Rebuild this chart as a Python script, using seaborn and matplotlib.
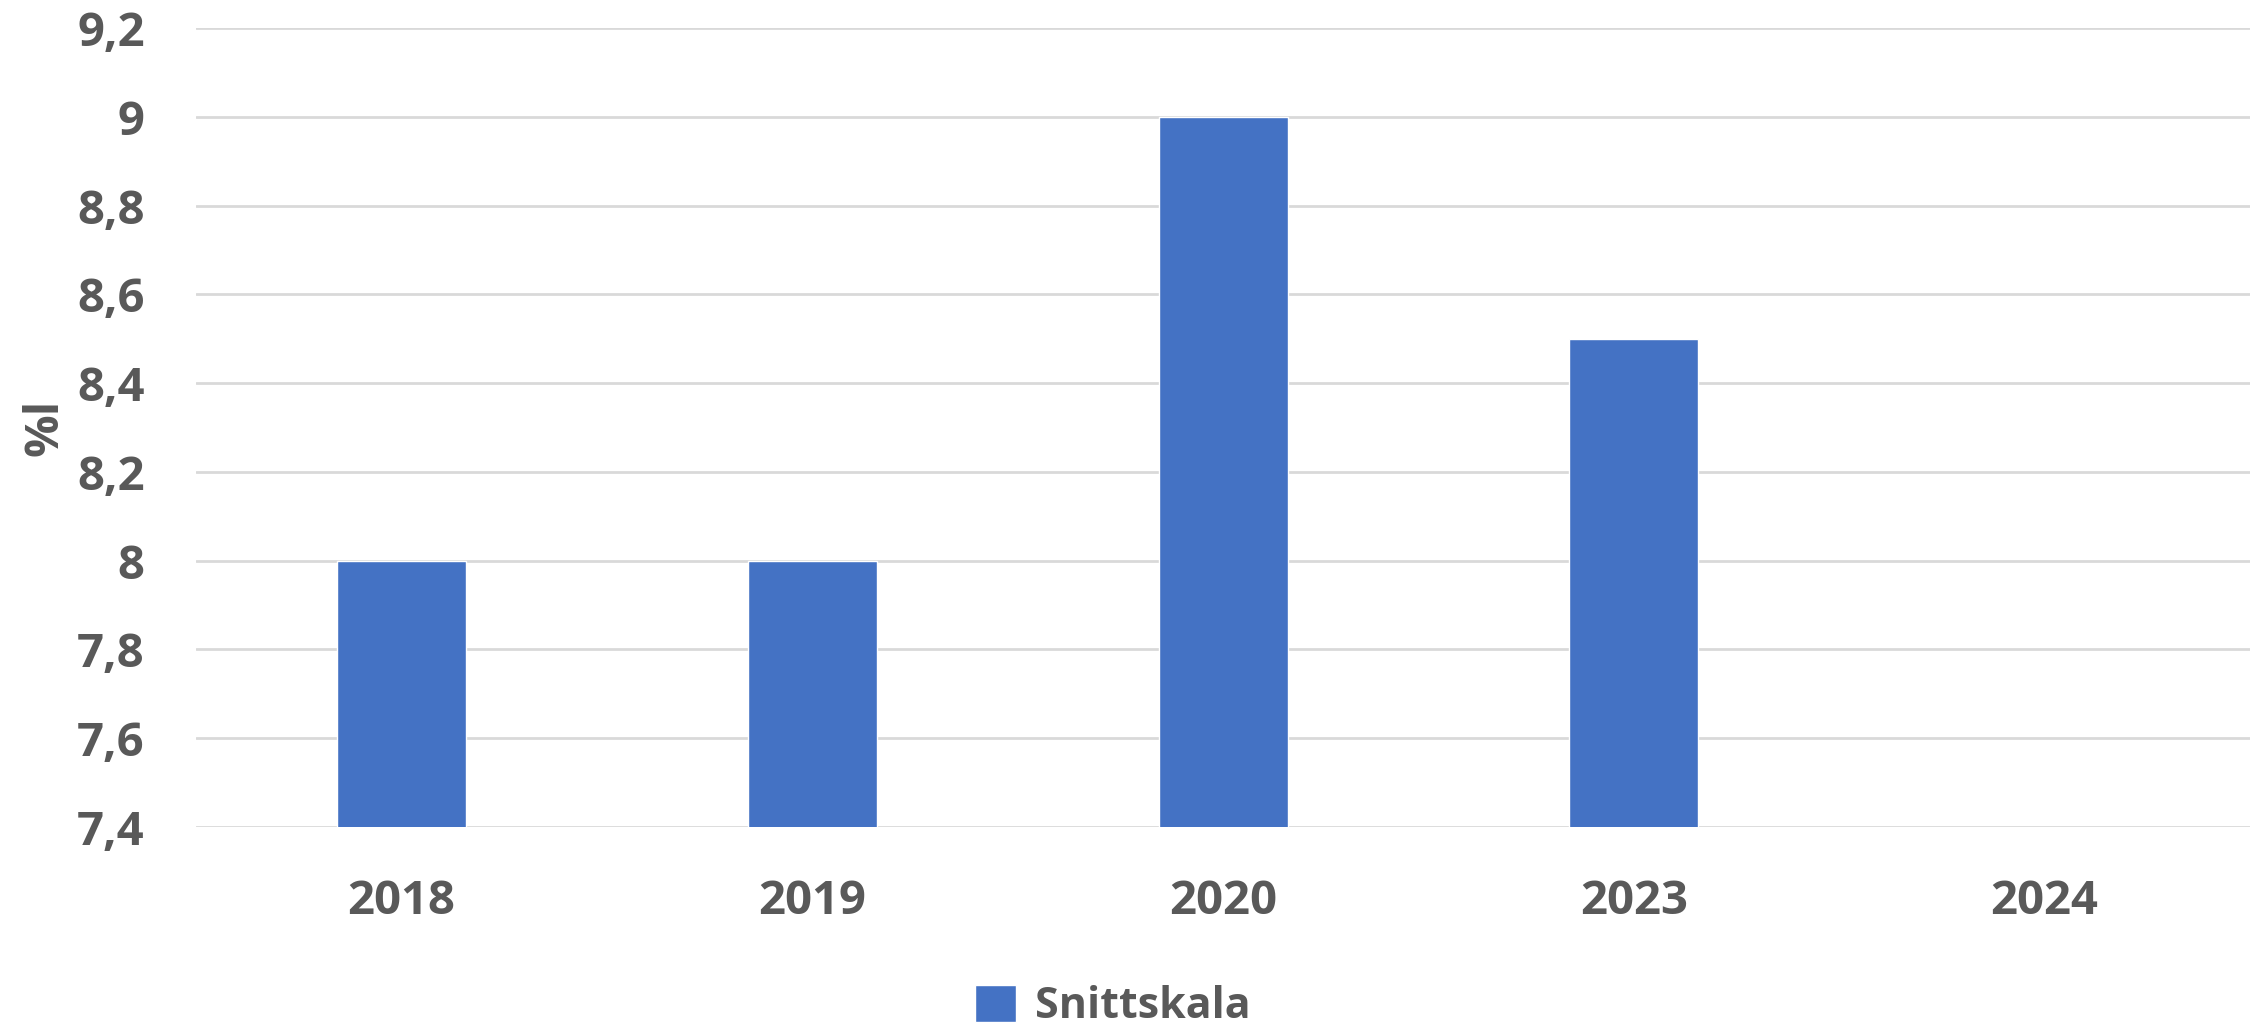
import numpy as np
import pandas as pd
import seaborn as sns
import matplotlib.pyplot as plt
from matplotlib.ticker import FuncFormatter, MultipleLocator

# Chart data
years = ["2018", "2019", "2020", "2023", "2024"]
snittskala = [8.0, 8.0, 9.0, 8.5, np.nan]
series_name = "Snittskala"

df = pd.DataFrame({"year": years, "value": snittskala})

sns.set_theme(style="white")
plt.rcParams["font.family"] = ["Open Sans", "DejaVu Sans"]

text_color = "#595959"
bar_color = "#4472C4"

fig = plt.figure(figsize=(22.62, 10.29), dpi=100)
ax = fig.add_axes([0.0867, 0.1963, 0.908, 0.7765])

sns.barplot(data=df, x="year", y="value", order=years, color=bar_color,
            width=0.314, label=series_name, ax=ax, saturation=1)

ax.set_ylim(7.4, 9.2)
ax.yaxis.set_major_locator(MultipleLocator(0.2))
ax.yaxis.set_major_formatter(FuncFormatter(lambda v, p: f"{v:g}".replace(".", ",")))
ax.grid(axis="y", color="#D9D9D9", linewidth=2)
ax.set_axisbelow(True)
for s in ax.spines.values():
    s.set_visible(False)

ax.tick_params(axis="both", length=0, labelsize=34, labelcolor=text_color)
ax.tick_params(axis="y", pad=37)
ax.tick_params(axis="x", pad=37)
for lbl in ax.get_xticklabels() + ax.get_yticklabels():
    lbl.set_fontweight("bold")

ax.set_xlabel("")
ax.set_ylabel("%l", fontsize=34, fontweight="bold", color=text_color)
ax.yaxis.set_label_coords(-0.062, 0.5)

handles, labels = ax.get_legend_handles_labels()
if ax.get_legend():
    ax.get_legend().remove()
leg = fig.legend(handles, labels, loc="center", bbox_to_anchor=(0.492, 0.022),
                 frameon=False, handlelength=0.95, handleheight=0.95, handletextpad=0.45,
                 prop={"size": 31, "weight": "bold"})
for t in leg.get_texts():
    t.set_color(text_color)

fig.savefig("out.png", dpi=100)
